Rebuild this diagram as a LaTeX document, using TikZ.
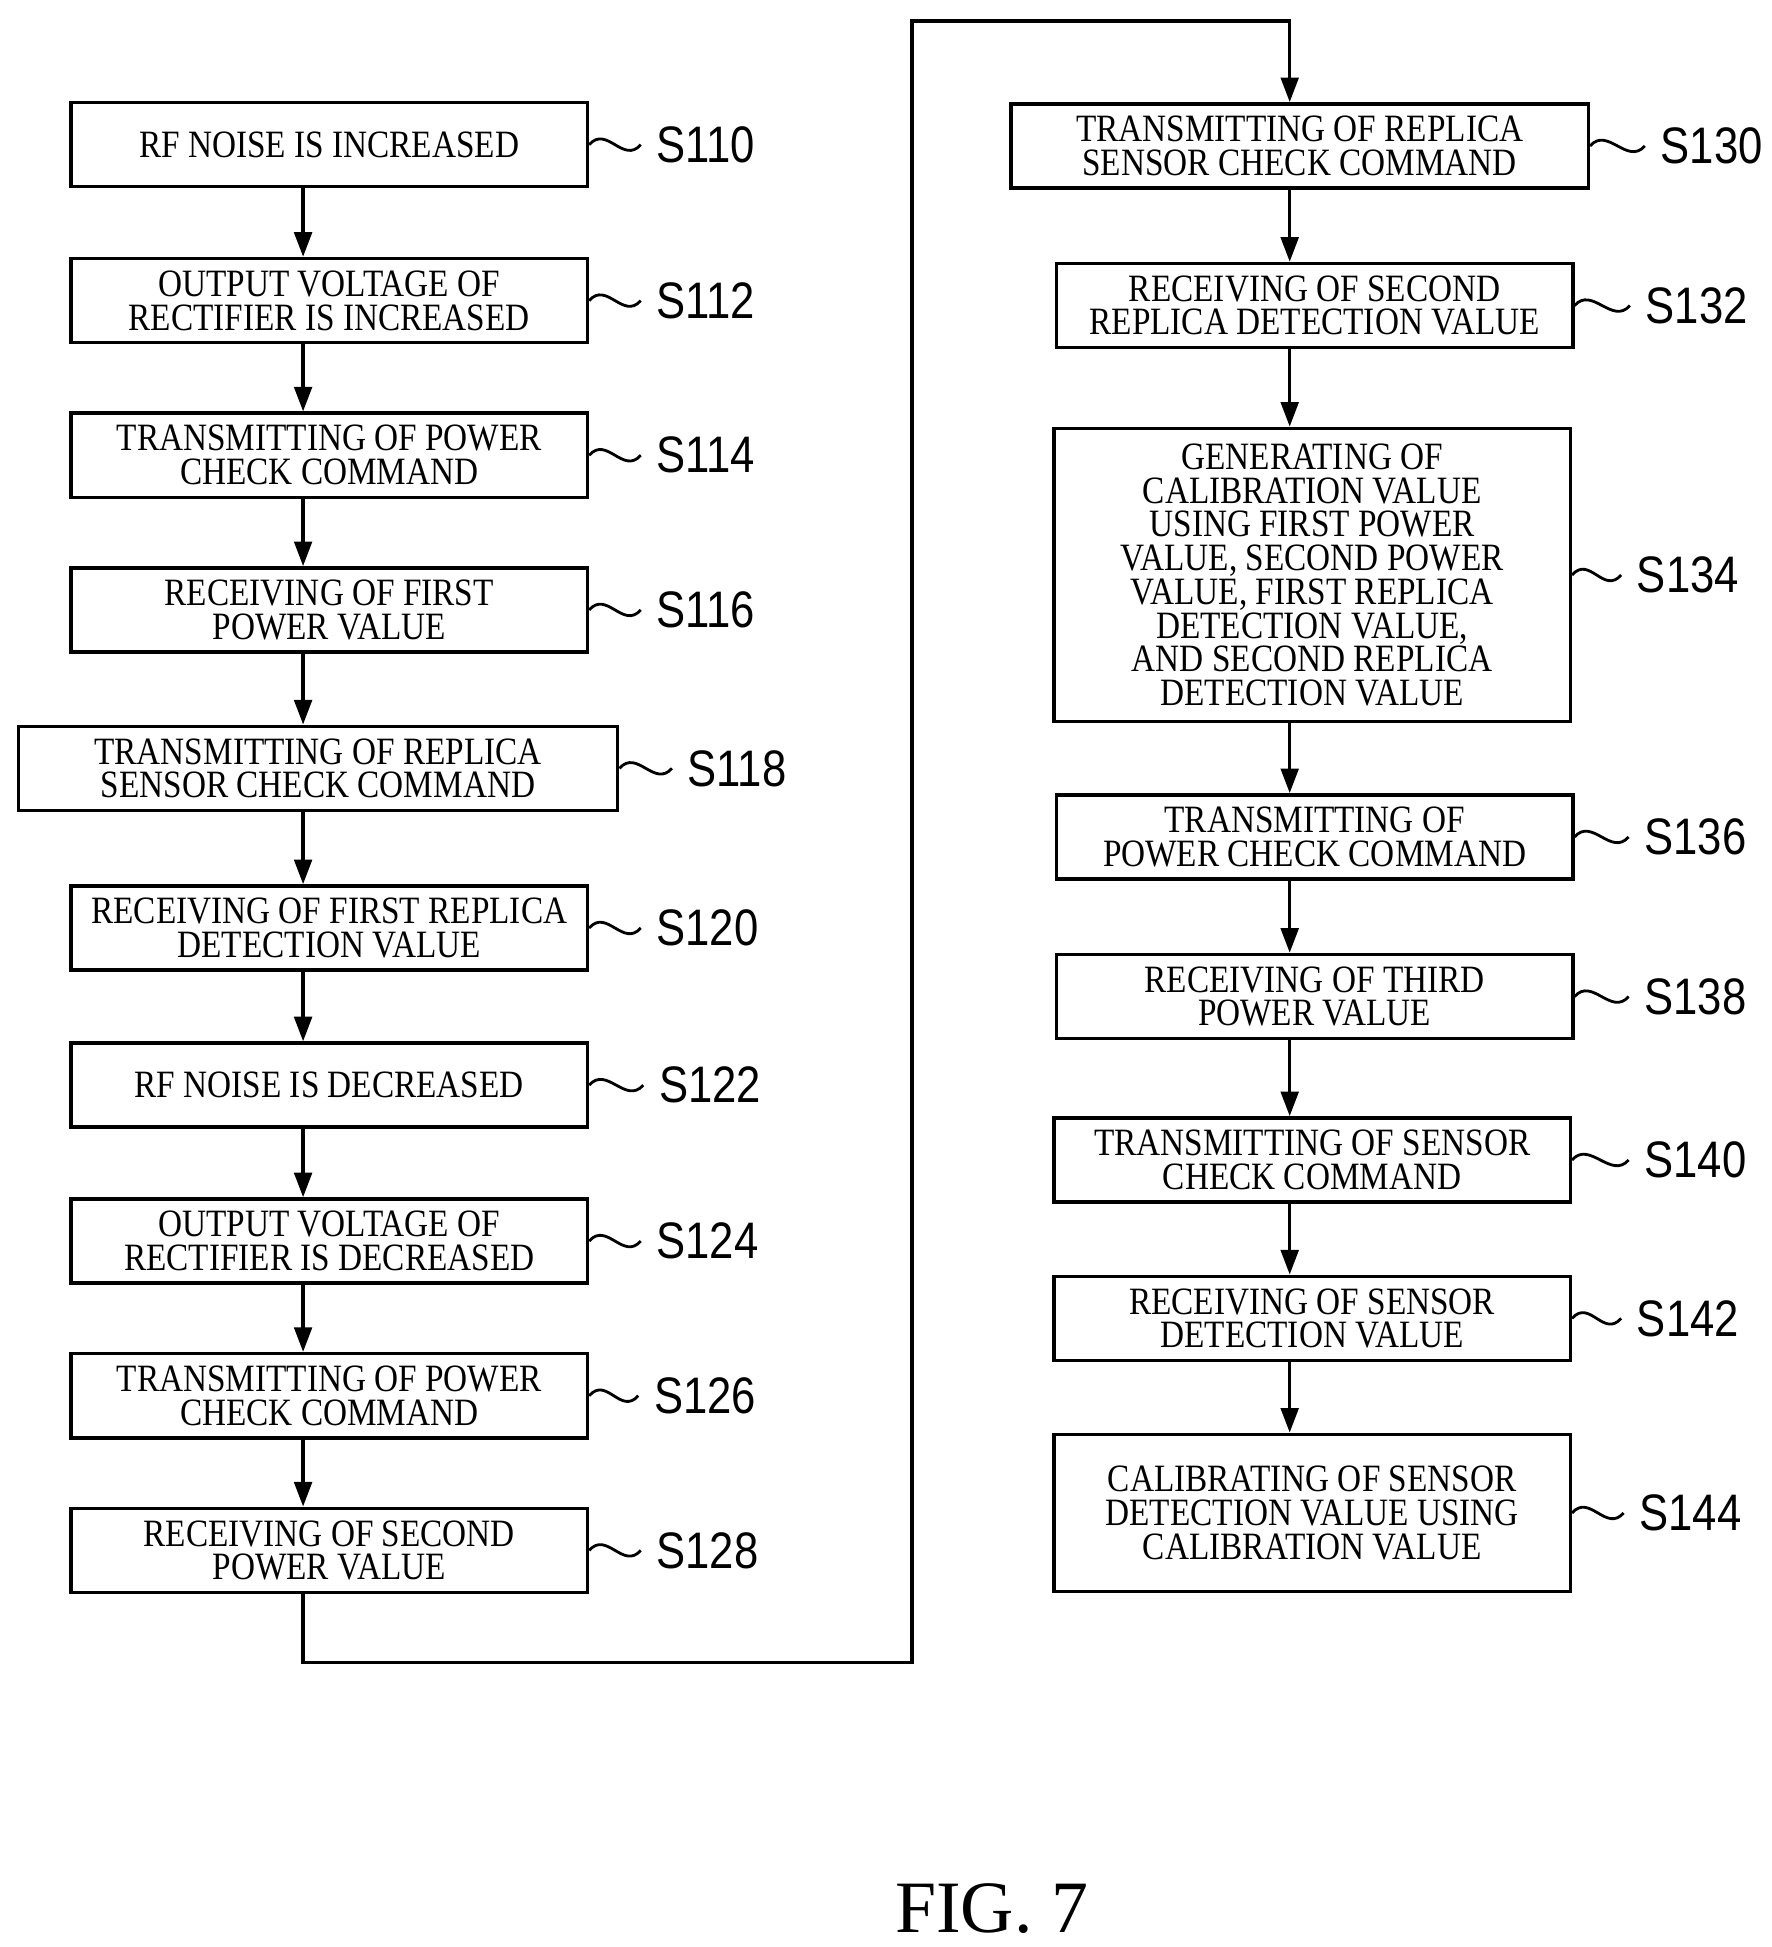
\documentclass[tikz,border=0pt]{standalone}
\usepackage{fontspec}
\setmainfont{Liberation Serif}
\newfontfamily\boxfont[FakeStretch=0.86]{Liberation Serif}
\newfontfamily\lblfont[FakeStretch=0.85]{Liberation Sans}
\usetikzlibrary{arrows.meta}

\begin{document}
\begin{tikzpicture}[x=0.01247cm,y=-0.01247cm,line width=1pt,
box/.style={draw,align=center,inner sep=0pt,minimum width=5.16cm,minimum height=0.84cm,
  font=\boxfont\fontsize{11}{9.6}\selectfont},
lbl/.style={anchor=west,inner sep=0pt,font=\lblfont\fontsize{14.6}{15}\selectfont},
flow/.style={-{Triangle[width=5pt,length=7pt]}},
tilde/.style={line width=0.8pt}]
\useasboundingbox (0,0) rectangle (1420,1561);
\coordinate (la) at (243,0);
\coordinate (ra) at (1034,0);
% left column
\node[box] (s110) at (264,116) {RF NOISE IS INCREASED};
\node[box] (s112) at (264,241) {OUTPUT VOLTAGE OF\\RECTIFIER IS INCREASED};
\node[box] (s114) at (264,365) {TRANSMITTING OF POWER\\CHECK COMMAND};
\node[box] (s116) at (264,489) {RECEIVING OF FIRST\\POWER VALUE};
\node[box,minimum width=5.99cm] (s118) at (255,616) {TRANSMITTING OF REPLICA\\SENSOR CHECK COMMAND};
\node[box] (s120) at (264,744) {RECEIVING OF FIRST REPLICA\\DETECTION VALUE};
\node[box] (s122) at (264,870) {RF NOISE IS DECREASED};
\node[box] (s124) at (264,995) {OUTPUT VOLTAGE OF\\RECTIFIER IS DECREASED};
\node[box] (s126) at (264,1119) {TRANSMITTING OF POWER\\CHECK COMMAND};
\node[box] (s128) at (264,1243) {RECEIVING OF SECOND\\POWER VALUE};
% right column
\node[box,minimum width=5.77cm] (s130) at (1042,117) {TRANSMITTING OF REPLICA\\SENSOR CHECK COMMAND};
\node[box] (s132) at (1054,245) {RECEIVING OF SECOND\\REPLICA DETECTION VALUE};
\node[box,minimum height=2.93cm] (s134) at (1052,461) {GENERATING OF\\CALIBRATION VALUE\\USING FIRST POWER\\VALUE, SECOND POWER\\VALUE, FIRST REPLICA\\DETECTION VALUE,\\AND SECOND REPLICA\\DETECTION VALUE};
\node[box] (s136) at (1054,671) {TRANSMITTING OF\\POWER CHECK COMMAND};
\node[box] (s138) at (1054,799) {RECEIVING OF THIRD\\POWER VALUE};
\node[box] (s140) at (1052,930) {TRANSMITTING OF SENSOR\\CHECK COMMAND};
\node[box] (s142) at (1052,1057) {RECEIVING OF SENSOR\\DETECTION VALUE};
\node[box,minimum height=1.57cm] (s144) at (1052,1213) {CALIBRATING OF SENSOR\\DETECTION VALUE USING\\CALIBRATION VALUE};
% step labels
\foreach \n/\x in {110/525,112/525,114/525,116/525,118/550,120/525,122/527,124/525,126/523,128/525,
  130/1330,132/1318,134/1311,136/1317,138/1317,140/1317,142/1311,144/1313}{
  \node[lbl] (l\n) at (\x,0 |- s\n.east) {S\n};
  \draw[tilde] (s\n.east) .. controls +(14,-16) and +(-14,16) .. ([xshift=-4pt]l\n.west);
}
% arrows
\foreach \a/\b in {110/112,112/114,114/116,116/118,118/120,120/122,122/124,124/126,126/128}
  \draw[flow] (s\a.south -| la) -- (s\b.north -| la);
\foreach \a/\b in {130/132,132/134,134/136,136/138,138/140,140/142,142/144}
  \draw[flow] (s\a.south -| ra) -- (s\b.north -| ra);
\coordinate (c1) at (243,1333);
\coordinate (c2) at (731,1333);
\coordinate (c3) at (731,17);
\coordinate (c4) at (1034,17);
\draw[flow] (s128.south -| la) -- (c1) -- (c2) -- (c3) -- (c4) -- (s130.north -| ra);
\node[font=\fontsize{21}{24}\selectfont] (fig) at (795,1530) {FIG. 7};
\end{tikzpicture}
\end{document}
